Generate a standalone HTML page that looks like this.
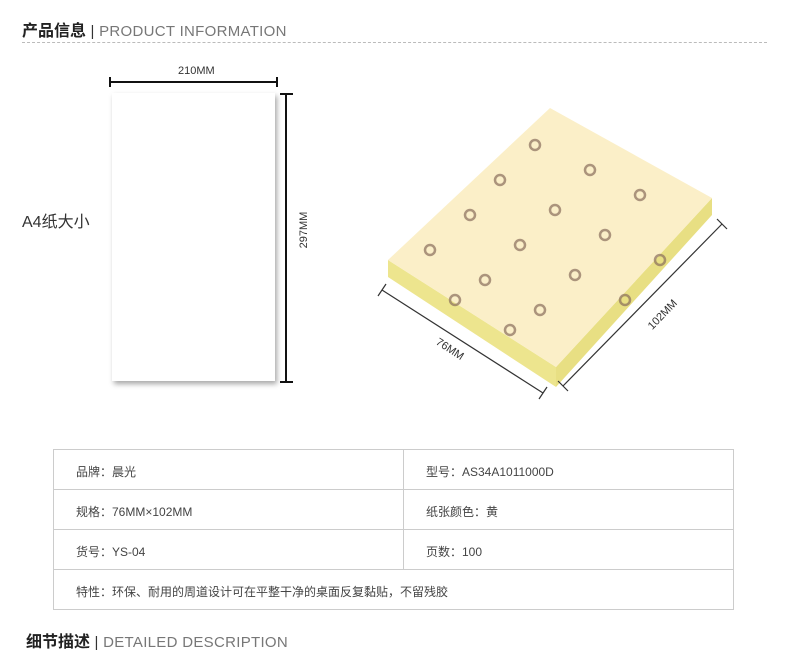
<!DOCTYPE html>
<html><head><meta charset="utf-8"><style>
body{margin:0;width:790px;height:646px;background:#fff;position:relative;overflow:hidden;font-family:"Liberation Sans","Noto Sans CJK SC",sans-serif}
.a{position:absolute;white-space:nowrap}
.h{font-size:16px;font-weight:bold;color:#222}
.h span{font-weight:normal;color:#777;font-size:15px;letter-spacing:0.3px}
table{position:absolute;left:53px;top:449px;width:681px;border-collapse:collapse;font-size:12px;color:#444}
td{border:1px solid #ccc;height:40px;padding:4px 0 0 22px;box-sizing:border-box}
</style></head><body>
<div class="a h" style="left:22px;top:17px">产品信息 <span style="color:#333">|</span> <span>PRODUCT INFORMATION</span></div>
<div class="a" style="left:22px;top:42px;width:745px;border-top:1px dashed #bbb"></div>

<div class="a" style="left:22px;top:208px;font-size:16px;color:#333">A4纸大小</div>
<div class="a" style="left:112px;top:93px;width:163px;height:288px;background:#fff;box-shadow:2px 3px 5px rgba(0,0,0,0.35)"></div>
<div class="a" style="left:178px;top:65px;font-size:11px;color:#333">210MM</div>

<svg class="a" style="left:0;top:0" width="790" height="646">
<g stroke="#111" stroke-width="2" fill="none">
<line x1="110" y1="82" x2="277" y2="82"/><line x1="110" y1="77" x2="110" y2="87"/><line x1="277" y1="77" x2="277" y2="87"/>
<line x1="286" y1="94" x2="286" y2="382"/><line x1="280" y1="94" x2="293" y2="94"/><line x1="280" y1="382" x2="293" y2="382"/>
</g>
<text x="307" y="230" font-size="11" fill="#333" transform="rotate(-90 307 230)" text-anchor="middle" font-family="Liberation Sans">297MM</text>
<polygon points="388,260 556,367 556,387 388,277" fill="#ede58e"/>
<polygon points="556,367 712,198 712,215 556,387" fill="#e8df83"/>
<polygon points="550,108 712,198 556,367 388,260" fill="#fbefc8"/>
<g fill="none" stroke="#8a6e5c" stroke-width="2.5" opacity="0.7">
<circle cx="535" cy="145" r="5"/><circle cx="590" cy="170" r="5"/><circle cx="640" cy="195" r="5"/>
<circle cx="500" cy="180" r="5"/><circle cx="555" cy="210" r="5"/><circle cx="605" cy="235" r="5"/><circle cx="660" cy="260" r="5"/>
<circle cx="470" cy="215" r="5"/><circle cx="520" cy="245" r="5"/><circle cx="575" cy="275" r="5"/><circle cx="625" cy="300" r="5"/>
<circle cx="430" cy="250" r="5"/><circle cx="485" cy="280" r="5"/><circle cx="540" cy="310" r="5"/>
<circle cx="455" cy="300" r="5"/><circle cx="510" cy="330" r="5"/>
</g>
<g stroke="#333" stroke-width="1.2" fill="none">
<line x1="382" y1="290" x2="543" y2="393"/><line x1="378" y1="296" x2="386" y2="284"/><line x1="539" y1="399" x2="547" y2="387"/>
<line x1="563" y1="386" x2="722" y2="224"/><line x1="558" y1="381" x2="568" y2="391"/><line x1="717" y1="219" x2="727" y2="229"/>
</g>
<text x="448" y="352" font-size="11" fill="#333" transform="rotate(33 448 352)" text-anchor="middle" font-family="Liberation Sans">76MM</text>
<text x="665" y="317" font-size="11" fill="#333" transform="rotate(-46 665 317)" text-anchor="middle" font-family="Liberation Sans">102MM</text>
</svg>

<table>
<tr><td style="width:350px">品牌：晨光</td><td>型号：AS34A1011000D</td></tr>
<tr><td>规格：76MM×102MM</td><td>纸张颜色：黄</td></tr>
<tr><td>货号：YS-04</td><td>页数：100</td></tr>
<tr><td colspan="2">特性：环保、耐用的周道设计可在平整干净的桌面反复黏贴，不留残胶</td></tr>
</table>

<div class="a h" style="left:26px;top:628px">细节描述 <span style="color:#333">|</span> <span>DETAILED DESCRIPTION</span></div>
</body></html>
